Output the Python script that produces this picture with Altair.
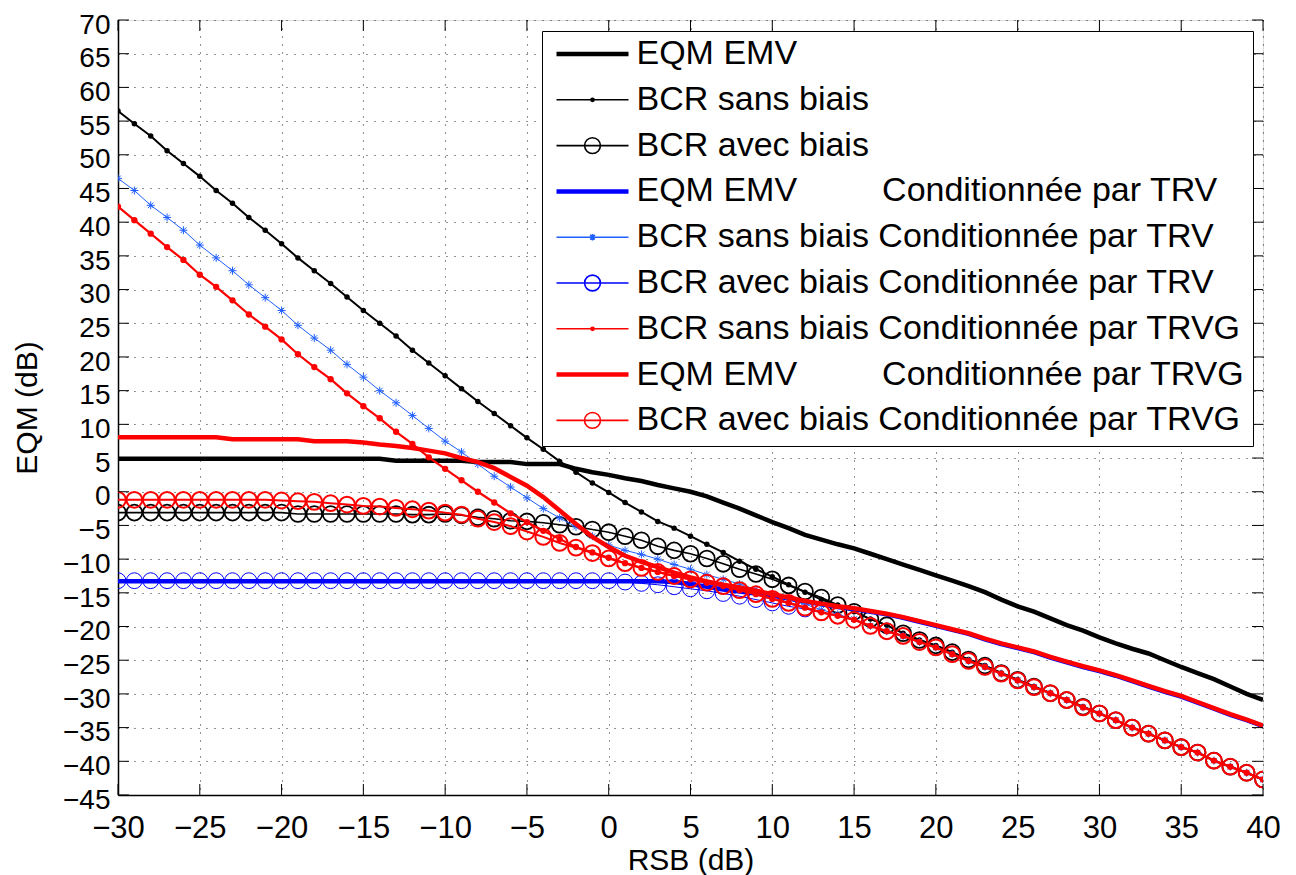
import altair as alt
import pandas as pd

RSB = list(range(-30, 41))
XTICKS = list(range(-30, 45, 5))
YTICKS = list(range(-45, 75, 5))

NB = "\u00a0" * 9
SERIES = [
    "EQM EMV",
    "BCR sans biais",
    "BCR avec biais",
    "EQM EMV" + NB + "Conditionnée par TRV",
    "BCR sans biais Conditionnée par TRV",
    "BCR avec biais Conditionnée par TRV",
    "BCR sans biais Conditionnée par TRVG",
    "EQM EMV" + NB + "Conditionnée par TRVG",
    "BCR avec biais Conditionnée par TRVG",
]

EQM_EMV = [4.9, 4.9, 4.9, 4.9, 4.9, 4.9, 4.9, 4.9, 4.9, 4.9,
           4.9, 4.9, 4.9, 4.9, 4.9, 4.9, 4.9,
           4.6, 4.6, 4.6, 4.6, 4.6,
           4.4, 4.4, 4.4,
           4.1, 4.1, 4.1,
           3.4, 2.9, 2.5, 2.0, 1.6, 1.0, 0.5, 0.0,
           -0.7, -1.6, -2.5, -3.5, -4.5, -5.4, -6.4, -7.1, -7.8, -8.4,
           -9.2, -10.0, -10.8, -11.6, -12.4,
           -13.2, -14.0, -14.9, -16.0, -17.0, -17.8, -18.8, -19.8, -20.6, -21.6,
           -22.5, -23.3, -24.0, -25.0, -26.0, -26.9, -27.8, -28.9, -30.0, -30.9]

BCR_SANS = [56.5, 54.6, 52.8, 50.6, 48.7, 46.8, 44.7, 42.8, 40.7, 38.8,
            36.8, 34.7, 32.8, 30.9, 28.9, 26.9, 25.0, 23.1, 21.0, 19.1,
            17.2, 15.3, 13.4, 11.6, 9.8, 8.0, 6.3, 4.5, 2.9, 1.3,
            -0.1, -1.6, -3.0, -4.4, -5.4, -6.6, -7.8, -9.0, -10.3, -11.5,
            -12.6, -13.8, -14.9, -16.0, -16.8, -17.8, -18.9, -19.8, -21.0, -22.0,
            -22.8, -23.8, -24.9, -25.8, -26.9, -27.9, -28.9, -29.9, -30.9, -31.9,
            -32.9, -33.9, -35.0, -35.9, -36.9, -37.9, -38.7, -39.9, -40.8, -41.7, -42.7]

BCR_AVEC = [-3.1, -3.1, -3.1, -3.1, -3.1, -3.1, -3.1, -3.1, -3.1, -3.1,
            -3.1, -3.3, -3.3, -3.3, -3.3, -3.3, -3.3, -3.3, -3.4, -3.4,
            -3.3, -3.5, -3.8, -4.0, -4.3, -4.4, -4.6, -4.9, -5.2, -5.6,
            -6.0, -6.6, -7.2, -8.1, -8.7, -9.2, -9.9, -10.7, -11.5, -12.2,
            -13.0, -13.9, -14.8, -15.7, -16.8, -17.8, -18.9, -19.8, -21.0, -22.0,
            -22.8, -23.8, -24.9, -25.8, -26.9, -27.9, -28.9, -29.9, -30.9, -31.9,
            -32.9, -33.9, -35.0, -35.9, -36.9, -37.9, -38.7, -39.9, -40.8, -41.7, -42.7]

EQM_TRV = [-13.3, -13.3, -13.3, -13.3, -13.3, -13.3, -13.3, -13.3, -13.3, -13.3,
           -13.3, -13.3, -13.3, -13.3, -13.3, -13.3, -13.3, -13.3, -13.3, -13.3,
           -13.3, -13.3, -13.3, -13.3, -13.3, -13.3, -13.3, -13.3, -13.3, -13.3,
           -13.3, -13.3, -13.3, -13.3, -13.4, -13.7, -14.1, -14.5, -14.8, -15.1,
           -15.4, -15.85, -16.3, -16.7, -17.1, -17.4, -17.8, -18.2, -18.7, -19.3,
           -19.9, -20.5, -21.1, -21.9, -22.6, -23.2, -23.8, -24.6, -25.3, -26.0,
           -26.6, -27.3, -28.1, -28.9, -29.7, -30.4, -31.3, -32.2, -33.1, -33.9, -34.8]

BCR_SANS_TRV = [46.5, 44.7, 42.5, 40.7, 38.8, 36.6, 34.7, 32.8, 30.7, 28.8,
                26.9, 24.7, 22.8, 21.0, 18.9, 17.0, 15.0, 13.2, 11.3, 9.4,
                7.5, 5.9, 4.1, 2.3, 0.7, -0.9, -2.5, -3.9, -5.2, -6.6,
                -7.9, -8.7, -9.3, -10.0, -10.8, -11.5, -12.3, -13.0, -13.7, -14.5,
                -15.3, -16.0, -16.7, -17.5, -18.2, -18.9, -19.9, -20.7, -21.4, -22.3,
                -23.1, -24.1, -25.1, -26.0, -27.0, -28.0, -29.0, -29.9, -30.9, -32.0,
                -32.9, -33.9, -35.0, -35.9, -36.9, -37.9, -38.7, -39.9, -40.8, -41.7, -42.7]

BCR_AVEC_TRV = [-13.2, -13.2, -13.2, -13.2, -13.2, -13.2, -13.2, -13.2, -13.2, -13.2,
                -13.2, -13.2, -13.2, -13.2, -13.2, -13.2, -13.2, -13.2, -13.2, -13.2,
                -13.2, -13.2, -13.2, -13.2, -13.2, -13.2, -13.2, -13.2, -13.2, -13.2,
                -13.2, -13.4, -13.6, -13.8, -14.1, -14.4, -14.7, -15.1, -15.5, -16.0,
                -16.5, -17.0, -17.4, -17.9, -18.4, -19.0, -19.9, -20.7, -21.4, -22.3,
                -23.1, -24.1, -25.1, -26.0, -27.0, -28.0, -29.0, -29.9, -30.9, -32.0,
                -32.9, -33.9, -35.0, -35.9, -36.9, -37.9, -38.7, -39.9, -40.8, -41.7, -42.7]

BCR_SANS_TRVG = [42.3, 40.3, 38.3, 36.3, 34.4, 32.2, 30.4, 28.4, 26.3, 24.5,
                 22.6, 20.4, 18.5, 16.7, 14.6, 12.7, 10.9, 8.9, 7.1, 5.1,
                 3.4, 1.7, 0.0, -1.6, -3.2, -4.5, -5.8, -7.0, -8.2, -9.0,
                 -9.8, -10.6, -11.3, -11.9, -12.5, -13.0, -13.5, -14.0, -14.6, -15.2,
                 -15.9, -16.5, -17.2, -17.9, -18.4, -19.0, -19.9, -20.7, -21.4, -22.3,
                 -23.1, -24.1, -25.1, -26.0, -27.0, -28.0, -29.0, -29.9, -30.9, -32.0,
                 -32.9, -33.9, -35.0, -35.9, -36.9, -37.9, -38.7, -39.9, -40.8, -41.7, -42.7]

EQM_TRVG = [8.1, 8.1, 8.1, 8.1, 8.1, 8.1, 8.1, 7.8, 7.8, 7.8,
            7.8, 7.8, 7.5, 7.5, 7.5, 7.3, 7.0, 6.8, 6.5, 6.1,
            5.7, 5.0, 4.4, 3.5, 2.2, 0.9, -0.8, -2.8, -4.8, -6.7,
            -8.2, -9.5, -10.4, -11.2, -12.0, -12.7, -13.3, -13.8, -14.2, -14.7,
            -15.2, -15.7, -16.2, -16.6, -17.0, -17.3, -17.7, -18.1, -18.6, -19.2,
            -19.8, -20.4, -21.0, -21.8, -22.5, -23.1, -23.7, -24.5, -25.2, -25.9,
            -26.5, -27.2, -28.0, -28.8, -29.6, -30.3, -31.2, -32.1, -33.0, -33.8, -34.7]

BCR_AVEC_TRVG = [-1.2, -1.2, -1.2, -1.2, -1.2, -1.2, -1.2, -1.2, -1.2, -1.2,
                 -1.3, -1.4, -1.5, -1.7, -1.9, -2.1, -2.2, -2.4, -2.6, -2.8,
                 -3.1, -3.4, -4.0, -4.5, -5.1, -5.9, -6.7, -7.6, -8.3, -9.1,
                 -9.9, -10.6, -11.3, -11.9, -12.5, -13.0, -13.5, -14.0, -14.6, -15.2,
                 -15.9, -16.5, -17.2, -17.9, -18.4, -19.0, -19.9, -20.7, -21.4, -22.3,
                 -23.1, -24.1, -25.1, -26.0, -27.0, -28.0, -29.0, -29.9, -30.9, -32.0,
                 -32.9, -33.9, -35.0, -35.9, -36.9, -37.9, -38.7, -39.9, -40.8, -41.7, -42.7]

VALUES = [EQM_EMV, BCR_SANS, BCR_AVEC, EQM_TRV, BCR_SANS_TRV, BCR_AVEC_TRV,
          BCR_SANS_TRVG, EQM_TRVG, BCR_AVEC_TRVG]

COLORS = ["#000000", "#000000", "#000000", "#0000ff", "#2060ff", "#0000ff",
          "#ff0000", "#ff0000", "#ff0000"]
WIDTHS = [4.5, 2.0, 1.6, 4.5, 1.0, 1.0, 2.2, 4.5, 2.0]
MARKERS = [None, "dot", "circle", None, "asterisk", "circle", "dot", None, "circle"]
MARKER_STROKE = [0, 0, 1.8, 0, 1.0, 1.0, 0, 0, 2.0]

FONT = "Liberation Sans"
W, H = 1145, 775

ASTERISK = "M-1,0L1,0M0,-1L0,1M-0.7,-0.7L0.7,0.7M-0.7,0.7L0.7,-0.7"
LEG_PATHS = {
    None: "M-1,-0.04H1M-1,0H1M-1,0.04H1",
    "dot": "M-1,0H1M-0.045,0A0.045,0.045 0 1,0 0.045,0A0.045,0.045 0 1,0 -0.045,0",
    "circle": "M-1,0H1M0.22,0A0.22,0.22 0 1,0 -0.22,0A0.22,0.22 0 1,0 0.22,0",
    "asterisk": "M-1,0H1M-0.09,0H0.09M0,-0.09V0.09M-0.065,-0.065L0.065,0.065M-0.065,0.065L0.065,-0.065",
}
shape_expr = "[" + ",".join("'" + LEG_PATHS[m] + "'" for m in MARKERS) + "][datum.index]"

xscale = alt.Scale(domain=[-30, 40], nice=False, zero=False)
yscale = alt.Scale(domain=[-45, 70], nice=False, zero=False)

common_axis = dict(grid=True, gridColor="black", gridDash=[1, 7], gridWidth=1.1,
                   gridOpacity=0.85, ticks=False, domainColor="black", domainWidth=1.5,
                   labelFont=FONT, labelColor="black",
                   labelFlush=False, labelOverlap=False, format="d",
                   titleFont=FONT, titleFontSize=30, titleFontWeight="normal",
                   titleColor="black")
xaxis = alt.Axis(values=XTICKS, title="RSB (dB)", labelPadding=18, labelFontSize=31,
                 titleY=50, titleBaseline="top", **common_axis)
yaxis = alt.Axis(values=YTICKS, title="EQM (dB)", labelPadding=8, labelOffset=5.2,
                 labelFontSize=28,
                 titleX=-76, titleY=H / 2, titleAngle=270, titleBaseline="bottom",
                 **common_axis)

X = alt.X("x:Q", scale=xscale, axis=xaxis)
Y = alt.Y("y:Q", scale=yscale, axis=yaxis)

legend = alt.Legend(
    title=None, orient="none", legendX=424, legendY=11, padding=8,
    fillColor="white", strokeColor="black", cornerRadius=0,
    labelFont=FONT, labelFontSize=34, labelColor="black", labelLimit=1200,
    labelOffset=7, symbolSize=5184, symbolStrokeWidth=1.6, symbolOffset=5.5,
    clipHeight=30, rowPadding=11.8, symbolFillColor="transparent",
    symbolType={"expr": shape_expr},
)
color = alt.Color("series:N", scale=alt.Scale(domain=SERIES, range=COLORS), legend=legend)

layers = []
for name, vals, col, w, mk, ms in zip(SERIES, VALUES, COLORS, WIDTHS, MARKERS, MARKER_STROKE):
    df = pd.DataFrame({"x": RSB, "y": vals, "series": name})
    base = alt.Chart(df)
    layers.append(base.mark_line(strokeWidth=w, clip=True).encode(x=X, y=Y, color=color))
    if mk == "dot":
        layers.append(base.mark_point(shape="circle", filled=True, size=30 if col == "#000000" else 40,
                                      color=col, opacity=1, clip=True).encode(x=X, y=Y))
    elif mk == "circle":
        layers.append(base.mark_point(shape="circle", filled=False, size=250, strokeWidth=ms,
                                      color=col, opacity=1, clip=True).encode(x=X, y=Y))
    elif mk == "asterisk":
        layers.append(base.mark_point(shape=ASTERISK, filled=False, size=64, strokeWidth=ms,
                                      color=col, opacity=1, clip=True).encode(x=X, y=Y))

# inward tick marks on the four sides of the box
ydf = pd.DataFrame({"y": YTICKS})
xdf = pd.DataFrame({"x": XTICKS})
TL = 11
layers.append(alt.Chart(ydf).mark_rule(color="black", strokeWidth=1).encode(
    y=Y, x=alt.value(0), x2=alt.value(TL)))
layers.append(alt.Chart(ydf).mark_rule(color="black", strokeWidth=1).encode(
    y=Y, x=alt.value(W - TL), x2=alt.value(W)))
layers.append(alt.Chart(xdf).mark_rule(color="black", strokeWidth=1).encode(
    x=X, y=alt.value(H), y2=alt.value(H - TL)))
layers.append(alt.Chart(xdf).mark_rule(color="black", strokeWidth=1).encode(
    x=X, y=alt.value(0), y2=alt.value(TL)))

chart = alt.layer(*layers).properties(
    width=W, height=H,
    autosize=alt.AutoSizeParams(type="none"),
    padding={"left": 110, "top": 12, "right": 25, "bottom": 80},
).configure_view(stroke="black", strokeWidth=1.5).configure(background="white")

chart.save("out.html", embed_options={"renderer": "svg", "actions": False})
